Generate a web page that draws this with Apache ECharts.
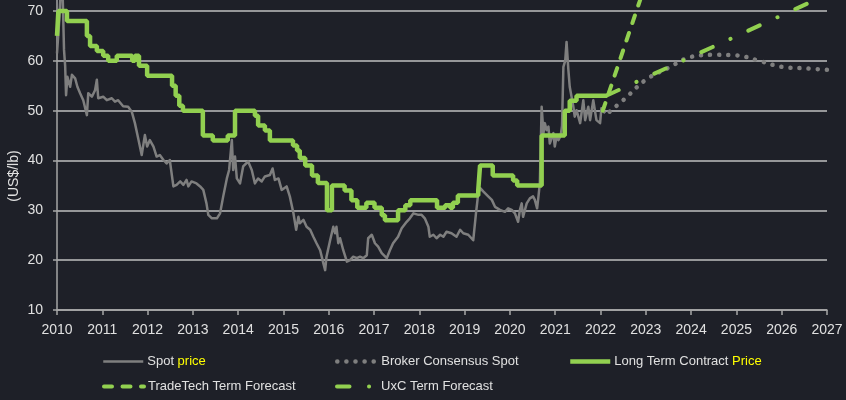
<!DOCTYPE html>
<html><head><meta charset="utf-8">
<script src="https://cdn.jsdelivr.net/npm/echarts@6/dist/echarts.min.js"></script>
<style>html,body{margin:0;padding:0;background:#1e2028;}#c{width:846px;height:400px;}</style>
</head><body><div id="c"></div>
<script>
const xTickLabels = [2010,2011,2012,2013,2014,2015,2016,2017,2018,2019,2020,2021,2022,2023,2024,2025,2026,2027];
const yTickLabels = [10,20,30,40,50,60,70];
const yAxisTitle = '(US$/lb)';
const seriesNames = ['Spot price','Broker Consensus Spot','Long Term Contract Price','TradeTech Term Forecast','UxC Term Forecast'];

const spotYears = [2010.00,2010.05,2010.08,2010.12,2010.155,2010.18,2010.20,2010.23,2010.25,2010.29,2010.33,2010.40,2010.45,2010.51,2010.58,2010.66,2010.69,2010.77,2010.84,2010.88,2010.91,
2011.02,2011.10,2011.21,2011.28,2011.35,2011.39,2011.46,2011.57,2011.65,2011.72,2011.80,2011.87,2011.94,2011.99,
2012.05,2012.13,2012.20,2012.27,2012.35,2012.42,2012.49,2012.57,2012.64,2012.72,2012.79,2012.86,2012.90,2012.97,
2013.08,2013.16,2013.23,2013.30,2013.34,2013.42,2013.53,2013.60,2013.67,2013.75,2013.80,2013.86,2013.89,2013.93,2013.97,
2014.04,2014.11,2014.22,2014.30,2014.37,2014.44,2014.52,2014.59,2014.70,2014.76,2014.81,2014.89,2014.96,
2015.07,2015.14,2015.22,2015.28,2015.33,2015.36,2015.44,2015.51,2015.59,2015.66,2015.73,2015.81,2015.88,2015.92,2015.95,
2016.03,2016.10,2016.14,2016.17,2016.21,2016.25,2016.32,2016.40,2016.47,2016.54,2016.62,2016.69,2016.76,2016.84,2016.87,2016.95,
2017.02,2017.09,2017.17,2017.28,2017.35,2017.42,2017.53,2017.61,2017.72,2017.79,2017.87,2017.98,
2018.05,2018.12,2018.20,2018.23,2018.31,2018.38,2018.46,2018.53,2018.60,2018.71,2018.82,2018.90,2018.97,
2019.08,2019.19,2019.25,2019.30,2019.35,2019.41,2019.52,2019.60,2019.67,2019.78,2019.89,2019.96,
2020.04,2020.11,2020.18,2020.22,2020.26,2020.29,2020.37,2020.44,2020.51,2020.55,2020.60,2020.63,2020.66,2020.70,2020.74,2020.77,2020.81,2020.85,2020.88,2020.96,2020.99,
2021.03,2021.07,2021.12,2021.15,2021.18,2021.22,2021.25,2021.29,2021.32,2021.36,2021.40,2021.43,2021.47,2021.55,2021.62,2021.66,2021.73,2021.77,2021.84,2021.91,2021.99,
2022.02,2022.10];
const spotValues = [61.5,68.2,73.5,75,62.2,59,53.1,56.8,56.8,54.8,57.2,56.5,54.8,53.5,52.1,49.1,53.5,52.8,54.1,56.2,52.5,
52.8,52.1,52.5,51.8,52.1,52.5,50.9,50.8,49.8,47.5,44.1,41.1,45.1,42.8,
44.1,42.8,40.8,41.1,40.1,39.4,40.1,34.8,35.1,35.8,35.1,36.1,34.8,35.8,
35.4,34.8,34.1,31.4,29.1,28.4,28.4,29.4,32.8,36.4,38.1,44.1,38.1,40.8,36.4,
35.4,38.8,39.8,38.1,35.4,36.4,35.8,36.8,37.1,38.4,36.1,36.4,34.1,
34.8,32.8,29.4,26.1,28.7,27.4,28.1,26.7,26.1,24.7,23.4,22.0,19.4,18.0,20.7,
24.0,26.7,25.4,26.7,23.4,24.4,22.0,19.7,20.0,20.7,20.4,20.7,20.4,21.0,24.4,25.1,
23.4,22.7,21.4,20.4,22.0,23.4,24.7,26.4,27.7,28.4,29.4,29.1,
29.1,28.4,26.7,24.7,25.1,24.4,25.1,24.7,25.7,25.4,24.7,26.1,25.4,
25.1,24.0,29.4,33.4,34.4,33.8,32.8,32.1,30.7,30.1,29.7,30.4,
30.1,29.4,27.7,30.1,31.4,28.7,31.4,32.4,32.8,32.1,30.4,32.8,35.4,50.8,45.5,47.5,46.1,46.8,43.4,45.5,42.8,
44.8,44.1,45.0,47.0,58.8,60.0,63.8,58.2,54.8,52.8,50.8,48.8,50.1,47.5,52.1,48.1,50.8,48.1,52.1,48.1,47.5,
50.5,49.5];

const ltYears = [2010.00,2010.03,2010.22,2010.66,2010.73,2010.88,2011.02,2011.13,2011.32,2011.66,2011.72,2011.81,2011.99,
2012.54,2012.62,2012.70,2012.78,2013.22,2013.44,2013.77,2013.93,2014.37,2014.44,2014.59,2014.70,
2015.21,2015.30,2015.36,2015.48,2015.63,2015.76,2015.96,2016.07,2016.35,2016.50,2016.63,2016.83,2017.01,2017.17,2017.24,
2017.53,2017.69,2017.80,2018.39,2018.57,2018.68,2018.74,2018.85,2019.30,2019.34,2019.62,2020.07,2020.16,2020.70,
2021.21,2021.32,2021.47,2022.15];
const ltValues = [65,70,68,65,63,62,61,60,61,60,61,59,57,
55,53,51,50,45,44,45,50,49,47,46,44,
43,42,40.5,39,37,35.5,30,35,34,32,30.5,31.5,30.5,29,28,
30,31,32,30.5,31,30.5,31.5,33,34,39,37,36,35,45,
50,52,53,53];

const brokerYears = [2022.20,2022.55,2023.00,2023.50,2024.00,2024.50,2025.00,2025.50,2026.00,2026.50,2027.00];
const brokerValues = [49.8,52.5,56.2,58.6,60.8,61.2,61.1,60.0,58.8,58.5,58.2];

const tradeTechYears = [2022.05,2023.00];
const tradeTechValues = [50,75.6];

const uxcYears = [2022.15,2027.00];
const uxcValues = [53.1,73.3];

const zip = (xs, ys) => xs.map((x, i) => [x, ys[i]]);

const FONT = "'Liberation Sans',Arial,sans-serif";
const TXT = '#e0e0e0';
const GRAY = '#7f7f7f';
const GREEN = '#92d050';
const TRANSPARENT = 'rgba(0,0,0,0)';

const chart = echarts.init(document.getElementById('c'), null, {renderer: 'canvas'});

function legendAt(name, left, top, fmt) {
  return {
    data: [name], left: left, top: top, itemWidth: 40, itemHeight: 14, itemGap: 0, padding: 0,
    itemStyle: {color: TRANSPARENT, borderWidth: 0, borderColor: TRANSPARENT},
    lineStyle: {width: 'inherit'},
    textStyle: {color: TXT, fontFamily: FONT, fontSize: 13, padding: [0,0,0,-1],
      rich: {hl: {color: '#ffff00', fontFamily: FONT, fontSize: 13}}},
    formatter: fmt || (n => n), selectedMode: false
  };
}

chart.setOption({
  backgroundColor: '#1e2028',
  animation: false,
  grid: {left: 57, right: 19, top: 0, bottom: 90},
  xAxis: {
    type: 'value', min: 2010, max: 2027, interval: 1,
    axisLine: {show: true, lineStyle: {color: '#a6a6a6', width: 1.5}},
    axisTick: {show: true, length: 5, lineStyle: {color: '#a6a6a6', width: 1.5}},
    splitLine: {show: false},
    axisLabel: {color: TXT, fontFamily: FONT, fontSize: 14, margin: 13,
      formatter: v => xTickLabels.includes(v) ? String(v) : ''}
  },
  yAxis: {
    type: 'value', min: 10, max: 72.21, interval: 10,
    axisLine: {show: true, lineStyle: {color: '#a6a6a6', width: 1.5}},
    axisTick: {show: true, length: 4, lineStyle: {color: '#a6a6a6', width: 1.5}},
    splitLine: {show: true, showMaxLine: false, lineStyle: {color: '#bfbfbf', width: 1.5}},
    axisLabel: {color: TXT, fontFamily: FONT, fontSize: 14, margin: 14, showMaxLabel: false,
      formatter: v => yTickLabels.includes(v) ? String(v) : ''}
  },
  graphic: [{
    type: 'text', x: 14, y: 176, rotation: Math.PI / 2,
    style: {text: yAxisTitle, fill: TXT, font: "14px " + FONT, align: 'center', verticalAlign: 'middle'}
  }],
  legend: [
    legendAt(seriesNames[0], 102, 355, () => 'Spot {hl|price}'),
    legendAt(seriesNames[1], 335, 355),
    legendAt(seriesNames[2], 568, 355, () => 'Long Term Contract {hl|Price}'),
    legendAt(seriesNames[3], 102, 380),
    legendAt(seriesNames[4], 335, 380)
  ],
  series: [
    {name: seriesNames[0], type: 'line', data: zip(spotYears, spotValues), showSymbol: false, symbol: 'none',
     lineStyle: {color: GRAY, width: 2.5, join: 'round'}, itemStyle: {color: GRAY}, z: 2},
    {name: seriesNames[1], type: 'line', data: zip(brokerYears, brokerValues), showSymbol: false, symbol: 'none', smooth: 0.4,
     lineStyle: {color: GRAY, width: 4.5, type: [0.1, 9], cap: 'round'}, itemStyle: {color: GRAY}, z: 1},
    {name: seriesNames[2], type: 'line', step: 'end', data: zip(ltYears, ltValues), showSymbol: false, symbol: 'none',
     lineStyle: {color: GREEN, width: 4.5}, itemStyle: {color: GREEN}, z: 3},
    {name: seriesNames[3], type: 'line', data: zip(tradeTechYears, tradeTechValues), showSymbol: false, symbol: 'none',
     lineStyle: {color: GREEN, width: 4, type: [8, 10.5], cap: 'round'}, itemStyle: {color: GREEN}, z: 3},
    {name: seriesNames[4], type: 'line', data: zip(uxcYears, uxcValues), showSymbol: false, symbol: 'none',
     lineStyle: {color: GREEN, width: 4, type: [12.5, 19.5, 0.1, 19.6], cap: 'round'}, itemStyle: {color: GREEN}, z: 3}
  ]
});
</script></body></html>
